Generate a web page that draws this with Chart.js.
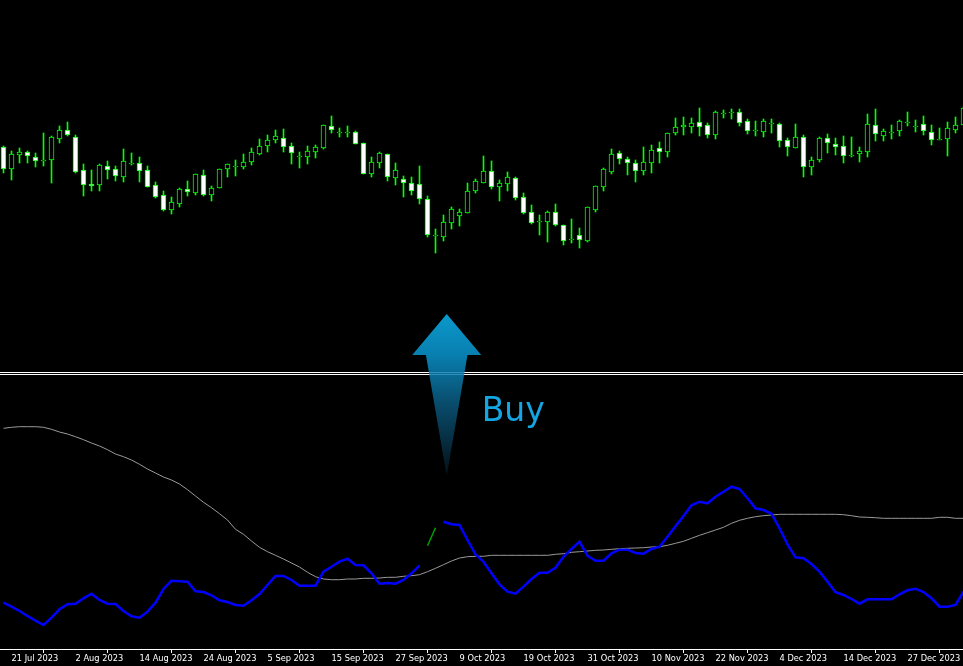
<!DOCTYPE html>
<html>
<head>
<meta charset="utf-8">
<script src="https://cdn.jsdelivr.net/npm/chart.js@4"></script>
<style>
  html, body { margin: 0; padding: 0; background: #000; overflow: hidden; }
  #wrap { position: relative; width: 963px; height: 666px; }
</style>
</head>
<body>
<div id="wrap"><canvas id="myChart"></canvas></div>
<script>
// daily candles, bar 0 = 20 Jul 2023
const opens  = [353,331,345,348,343,340,340,361,370,363,330,316,315,334,331,323,337,337,330,315,305,290,296,311,307,325,305,312,331,334,
                333,338,346,354,360,362,354,344,343,348,352,374,368,368,368,357,326,337,346,322,321,317,316,301,265,263,277,284,287,309,
                317,329,313,316,322,303,288,279,278,288,275,261,265,259,290,313,328,347,341,337,329,337,352,348,367,373,373,378,375,365,
                387,388,388,379,370,368,377,376,360,352,363,333,340,362,356,354,345,346,348,375,364,368,369,378,374,376,368,361,361,370,375];
const highs  = [354,349,352,349,347,367,364,374,378,365,336,330,336,339,334,351,347,343,334,318,309,303,312,319,326,330,314,331,336,340,
                346,352,361,365,370,371,357,348,354,355,375,384,372,374,369,357,343,348,346,337,324,323,334,304,271,285,293,291,317,321,
                344,339,320,328,323,307,295,285,289,296,275,281,272,293,314,332,351,349,343,340,353,355,358,367,382,383,382,392,377,389,
                390,391,391,381,379,381,381,377,362,376,365,343,363,366,362,364,363,353,386,391,371,375,380,388,380,384,375,372,378,383,393];
const lows   = [327,320,337,337,333,334,317,357,364,327,304,309,309,321,319,318,335,318,313,302,289,286,293,304,305,304,299,312,323,324,
                331,335,345,348,357,348,336,332,336,342,351,367,363,363,356,326,323,332,319,315,303,305,296,263,247,259,271,274,287,307,
                317,311,299,309,300,286,276,265,258,274,255,257,252,258,288,309,326,336,325,318,325,327,337,343,365,365,367,364,362,361,
                382,381,374,366,364,363,367,353,344,352,323,325,338,347,345,337,343,338,343,359,359,361,364,374,368,365,355,360,344,367,375];
const closes = [331,346,348,344,339,340,363,370,365,328,315,314,335,330,324,339,337,329,313,303,290,298,311,308,326,305,312,331,336,334,
                338,348,354,360,364,353,347,344,349,353,375,370,368,368,356,326,338,347,323,330,317,309,301,265,265,278,291,288,309,319,
                329,313,317,323,302,287,277,279,288,275,259,261,260,293,314,331,346,341,337,329,338,350,348,367,373,375,377,373,365,388,
                387,388,377,369,370,379,377,359,353,363,333,340,362,357,353,344,345,349,376,366,369,368,379,378,374,369,360,361,372,375,392];

// oscillator (blue), its signal segment (green) and slow average (gray)
const fastLine = [45.3,41.3,37,32,27.3,23,30.3,38.7,43.7,44.3,49.7,54.3,48,44.3,44,37,31.7,30.3,36.3,45.3,
                  59,67.3,66.7,66.3,56.7,56,52.7,47.7,46,43,42.3,47.7,54,63,72,72,68,62.3,62.3,62.3,
                  76.3,81.3,86.3,89.3,83,82.7,74.7,64.3,65,64.3,68,74.7,82.3,null,null,126.3,123.7,123,108,93.7,
                  86.3,74.7,63.7,56.3,54.3,61.3,69,75.3,75.3,80.3,91.3,99,106.3,92.3,87.3,87.3,94.7,98.3,98.3,95,
                  94.3,99,101.3,111.3,121.7,132,142.7,146.3,144.7,151.3,156.3,161.3,159,149.7,139.7,138,134.3,119.7,103.7,90.7,
                  89.7,84,76.3,66.3,55.7,53,49,44.3,48.7,48.7,48.7,48.7,53.7,57.7,59.3,56,49.7,41.3,41.3,43,56.3];
const signalLine = {53: 102.3, 54: 120.3};
const slowLine = [219.7,220.7,221.3,221.3,221.3,220.7,218.7,216,214,211.3,208.3,205,202,198.3,194,191.3,188,183.7,179,175,
                  171,168,164,158.3,152,145.7,140.3,134.3,128,118.7,113.7,107,100.7,96.3,92.7,89,85,81,75.7,71.3,
                  69,68.3,68.3,69,69,69.7,69.7,70,70.7,70.7,71.7,72.3,73.3,76.3,79.7,83.3,87,90,91.3,91.7,
                  91.7,92.7,92.7,92.7,92.7,92.7,92.7,92.7,92.7,93.7,94.3,95.7,96.3,97,97.7,98,98.7,99.3,99.7,100,
                  100.3,101,101.3,102.7,104.7,106.7,109.7,112.7,115.3,118,120.7,124.7,127.7,129.7,131.3,132.3,133,133.7,133.7,133.7,
                  133.7,133.7,133.7,133.7,133.7,133.3,132.3,131,130.7,130.3,129.7,129.7,129.7,129.7,129.7,129.7,129.7,130.7,130.7,129.7,129.7];

const labelBars = [1,9,17,25,33,41,49,57,65,73,81,89,97,105,113];
const dateLabels = ["21 Jul 2023","2 Aug 2023","14 Aug 2023","24 Aug 2023","5 Sep 2023","15 Sep 2023","27 Sep 2023",
                    "9 Oct 2023","19 Oct 2023","31 Oct 2023","10 Nov 2023","22 Nov 2023","4 Dec 2023","14 Dec 2023","27 Dec 2023"];

const buyAt = 55.4;

const wicks = lows.map((l, i) => ({x: i, y: [l, highs[i]]}));
const bodies = opens.map((o, i) => ({x: i, y: [o, closes[i]]}));
const fastData = fastLine.map((v, i) => ({x: i, y: v}));
const slowData = slowLine.map((v, i) => ({x: i, y: v}));
const signalData = Object.keys(signalLine).map(k => ({x: Number(k), y: signalLine[k]}));

const overlay = {
  id: "overlay",
  afterDatasetsDraw(chart) {
    const ctx = chart.ctx;
    const w = chart.width;
    ctx.save();
    // panel separator
    ctx.fillStyle = "#ffffff";
    ctx.fillRect(0, 372, w, 1);
    ctx.fillRect(0, 374, w, 1);

    // buy arrow
    const cx = chart.scales.x.getPixelForValue(buyAt);
    const g = ctx.createLinearGradient(0, 314, 0, 476);
    g.addColorStop(0, "#0cb4f0");
    g.addColorStop(0.25, "#0a96cf");
    g.addColorStop(0.55, "#0a5a80");
    g.addColorStop(0.8, "#083248");
    g.addColorStop(1, "#04121a");
    ctx.globalAlpha = 0.85;
    ctx.fillStyle = g;
    ctx.beginPath();
    ctx.moveTo(cx, 314);
    ctx.lineTo(cx + 34.5, 355);
    ctx.lineTo(cx + 20.8, 355);
    ctx.lineTo(cx, 476);
    ctx.lineTo(cx - 20.8, 355);
    ctx.lineTo(cx - 34.5, 355);
    ctx.closePath();
    ctx.fill();
    ctx.globalAlpha = 1;

    ctx.fillStyle = "#15a5e2";
    ctx.font = "33px 'DejaVu Sans'";
    ctx.textBaseline = "alphabetic";
    ctx.textAlign = "left";
    ctx.fillText("Buy", cx + 35, 421);
    ctx.restore();
  }
};

const myChart = document.getElementById("myChart");
const chart = new Chart(myChart, {
  type: "bar",
  data: {
    datasets: [
      {
        type: "line", data: fastData, yAxisID: "yI",
        borderColor: "#0000ff", borderWidth: 2.5, pointRadius: 0, tension: 0, spanGaps: false, order: 0
      },
      {
        type: "line", data: signalData, yAxisID: "yI",
        borderColor: "#00a000", borderWidth: 1.5, pointRadius: 0, tension: 0, order: 0
      },
      {
        type: "line", data: slowData, yAxisID: "yI",
        borderColor: "#9a9a9a", borderWidth: 1, pointRadius: 0, tension: 0, order: 1
      },
      {
        data: bodies, yAxisID: "yP", grouped: false, order: 2,
        barThickness: 5, minBarLength: 1,
        borderColor: "#00ff00", borderWidth: 1, borderSkipped: false,
        backgroundColor: (c) => (closes[c.dataIndex] < opens[c.dataIndex] ? "#ffffff" : "#000000")
      },
      {
        data: wicks, yAxisID: "yP", grouped: false, order: 3,
        barThickness: 1, backgroundColor: "#00ff00", borderWidth: 0
      }
    ]
  },
  options: {
    responsive: true,
    maintainAspectRatio: false,
    animation: false,
    layout: { padding: 0 },
    plugins: { legend: { display: false }, tooltip: { enabled: false } },
    scales: {
      x: {
        type: "linear",
        min: -0.4375,
        max: 119.9375,
        offset: false,
        afterBuildTicks: (s) => { s.ticks = labelBars.map(v => ({ value: v })); },
        afterFit: (s) => { s.height = 17; },
        grid: { drawOnChartArea: false, drawTicks: true, tickLength: 4, color: "#ffffff" },
        border: { color: "#ffffff" },
        ticks: {
          color: "#ffffff",
          font: { family: "'DejaVu Sans Condensed', 'Liberation Sans'", size: 9.2 },
          align: "start",
          padding: 0,
          maxRotation: 0,
          autoSkip: false,
          callback: (v) => dateLabels[labelBars.indexOf(v)]
        }
      },
      yP: { display: false, min: -149, max: 500 },
      yI: { display: false, min: -1, max: 648 }
    }
  },
  plugins: [overlay]
});
</script>
</body>
</html>
